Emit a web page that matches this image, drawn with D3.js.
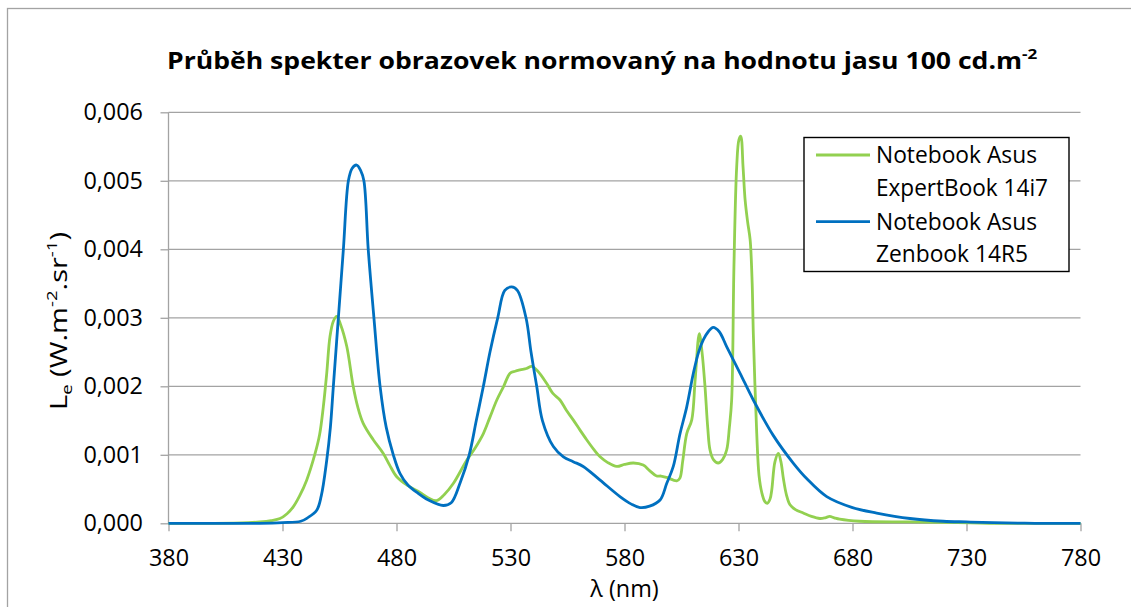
<!DOCTYPE html>
<html>
<head>
<meta charset="utf-8">
<script src="https://cdn.jsdelivr.net/npm/d3@7"></script>
<style>
  body { margin: 0; background: #fff; }
  svg { display: block; }
  text { font-family: "Open Sans", "Liberation Sans", sans-serif; fill: #000; }
</style>
</head>
<body>
<svg id="chart" width="1131" height="607"></svg>
<script>
// Spectral radiance normalised to 100 cd/m², wavelengths in nm
const expertWl = [380, 400, 415, 420, 425, 428.9, 432, 434.7, 437.5, 440.6, 444.3, 446.3, 447.9, 449.4, 450.8, 452.3, 453.8, 455.5, 458.2, 461, 463, 465.4, 469.8, 474.2, 477, 480.1, 485, 490.3, 494, 497.6, 501, 504.9, 510.8, 514.5, 518.1, 521, 524, 527, 529.8, 532, 534.2, 537, 539.3, 542, 545.9, 548.5, 551.7, 554.5, 557.5, 560.5, 563.4, 566.5, 569.3, 572.5, 576.6, 580, 583.9, 588.2, 591, 594.1, 596, 598.5, 602.9, 604.3, 605.5, 607.3, 609.5, 611, 612.8, 614, 615.3, 616.5, 617.5, 619, 621.1, 623, 624.8, 626, 627, 628, 629.2, 630.2, 631, 632, 632.9, 634, 635.1, 636, 636.5, 638, 639, 640.2, 641.5, 642.6, 643.8, 644.6, 646, 647.5, 648.6, 649.7, 651, 652.6, 655, 658.4, 662, 665.7, 668, 670, 672, 674.4, 683.2, 705.2, 726, 740, 780];
const expertLe = [0, 0, 0.00001, 0.00002, 0.00004, 0.00007, 0.00014, 0.00024, 0.0004, 0.00063, 0.00102, 0.0013, 0.0017, 0.00219, 0.00272, 0.00295, 0.00302, 0.0029, 0.00258, 0.002, 0.0017, 0.00146, 0.00122, 0.00102, 0.00085, 0.00068, 0.00055, 0.00045, 0.00037, 0.00033, 0.00042, 0.00058, 0.00092, 0.0011, 0.00131, 0.00155, 0.0018, 0.002, 0.00219, 0.00222, 0.00224, 0.00226, 0.00229, 0.00222, 0.00204, 0.0019, 0.0018, 0.00165, 0.00151, 0.00136, 0.00122, 0.00108, 0.00097, 0.00089, 0.00083, 0.00086, 0.00088, 0.00085, 0.00077, 0.00069, 0.00069, 0.00067, 0.00062, 0.00066, 0.0009, 0.00131, 0.00151, 0.0021, 0.00277, 0.0025, 0.002, 0.0014, 0.00107, 0.00093, 0.00088, 0.00093, 0.00107, 0.0014, 0.0018, 0.00375, 0.0052, 0.0056, 0.00565, 0.0052, 0.00472, 0.0044, 0.00414, 0.0035, 0.00277, 0.00131, 0.0007, 0.00045, 0.00032, 0.00029, 0.00035, 0.00049, 0.0009, 0.00102, 0.0009, 0.00065, 0.00042, 0.00027, 0.0002, 0.00015, 0.0001, 0.00007, 0.00008, 0.0001, 0.00008, 0.00006, 0.00003, 0.00002, 0.00001, 0, 0];

const zenWl = [380, 400, 420, 430, 438, 441, 445, 447, 449.4, 451, 452.3, 454.5, 456.7, 458.9, 460.5, 462.5, 464.3, 465.7, 467.6, 470.1, 472.8, 475.5, 478.6, 481.5, 485, 489.4, 494, 500.5, 504, 508, 511.9, 515, 518.1, 521, 524.4, 527.5, 530.5, 533, 536.8, 539, 541.5, 544, 548.8, 553.2, 557.5, 561.9, 569.3, 578, 583, 586.8, 591, 595.6, 598.5, 601.4, 604.3, 607.3, 610.2, 612.5, 614.6, 616.8, 618.9, 621.5, 624.8, 630.7, 636.5, 645.3, 654, 660, 668.7, 680, 690.6, 705.2, 719.8, 730, 741.8, 760, 780];
const zenLe = [0, 0, 0, 0.00001, 0.00003, 0.00008, 0.00019, 0.0004, 0.00092, 0.0014, 0.002, 0.003, 0.004, 0.005, 0.00518, 0.00523, 0.00515, 0.005, 0.004, 0.003, 0.002, 0.0014, 0.001, 0.00073, 0.00056, 0.00044, 0.00034, 0.00026, 0.0003, 0.0006, 0.001, 0.0015, 0.002, 0.0025, 0.003, 0.0034, 0.00345, 0.0034, 0.003, 0.0025, 0.002, 0.0015, 0.00112, 0.00097, 0.0009, 0.00083, 0.00063, 0.00039, 0.00028, 0.00023, 0.00025, 0.00034, 0.00058, 0.00083, 0.0013, 0.0017, 0.00219, 0.0025, 0.00268, 0.0028, 0.00286, 0.0028, 0.00258, 0.00219, 0.0018, 0.00128, 0.00088, 0.00065, 0.00039, 0.00023, 0.00015, 0.00007, 0.00003, 0.00002, 0.00001, 0, 0];

const xTicks = [380, 430, 480, 530, 580, 630, 680, 730, 780];
const yTicks = [0, 0.001, 0.002, 0.003, 0.004, 0.005, 0.006];

const seriesNames = [["Notebook Asus", "ExpertBook 14i7"], ["Notebook Asus", "Zenbook 14R5"]];
const seriesColors = ["#92D050", "#0070C0"];

const svg = d3.select("#chart");
const FS = 23.4;
const gridColor = "#a3a3a3";

const x = d3.scaleLinear().domain([380, 780]).range([168.5, 1080.5]);
const y = d3.scaleLinear().domain([0, 0.006]).range([523.3, 112.3]);

// Horizontally squeeze/stretch a text element about its anchor to a target width
function fitWidth(sel, target, ax, ay, rotate) {
  const w = sel.node().getBBox().width;
  const k = target / w;
  const rot = rotate ? ` rotate(${rotate})` : "";
  sel.attr("transform", `translate(${ax},${ay})${rot} scale(${k},1)`);
}

// Outer chart frame
svg.append("rect")
  .attr("x", 7.5).attr("y", 8.5).attr("width", 1200).attr("height", 700)
  .attr("fill", "none").attr("stroke", gridColor).attr("stroke-width", 1.3);

// Horizontal gridlines
svg.append("g").selectAll("line").data(yTicks.filter(d => d > 0)).join("line")
  .attr("x1", x(380)).attr("x2", x(780))
  .attr("y1", d => y(d)).attr("y2", d => y(d))
  .attr("stroke", gridColor).attr("stroke-width", 1.3);

// Axes
const yAxis = d3.axisLeft(y).tickValues(yTicks).tickSize(8).tickPadding(17.5)
  .tickFormat(d => d3.format(".3f")(d).replace(".", ","));
const xAxis = d3.axisBottom(x).tickValues(xTicks).tickSize(8).tickPadding(18.5)
  .tickFormat(d3.format("d"));

const gy = svg.append("g").attr("transform", `translate(${x(380)},0)`).call(yAxis);
const gx = svg.append("g").attr("transform", `translate(0,${y(0)})`).call(xAxis);
[gx, gy].forEach(g => {
  g.select(".domain").attr("stroke", gridColor).attr("stroke-width", 1.3);
  g.selectAll(".tick line").attr("stroke", gridColor).attr("stroke-width", 1.3);
  g.selectAll(".tick text").attr("font-size", FS).attr("font-family", "Open Sans").attr("fill", "#000");
});
gx.select(".domain").attr("d", `M${x(380)},0H${x(780)}`);
gy.select(".domain").attr("d", `M0,${y(0)}V${y(0.006)}`);

// Spectra
const line = d3.line().x(d => x(d[0])).y(d => y(d[1])).curve(d3.curveCatmullRom.alpha(0.5));
const series = [
  d3.zip(expertWl, expertLe),
  d3.zip(zenWl, zenLe)
];
svg.append("g").selectAll("path").data(series).join("path")
  .attr("d", line)
  .attr("fill", "none")
  .attr("stroke", (d, i) => seriesColors[i])
  .attr("stroke-width", 2.8)
  .attr("stroke-linejoin", "round");

// Title
const title = svg.append("text").attr("font-size", FS).attr("font-weight", "bold");
title.append("tspan").text("Průběh spekter obrazovek normovaný na hodnotu jasu 100 cd.m");
title.append("tspan").attr("font-size", 15).attr("dy", -9.5).text("-2");
fitWidth(title, 871, 167, 68.5);

// Y axis title
const yTitle = svg.append("text").attr("font-size", FS).attr("text-anchor", "start");
yTitle.append("tspan").text("L");
yTitle.append("tspan").attr("font-size", 15).attr("dy", 5).text("e");
yTitle.append("tspan").attr("dy", -5).text(" (W.m");
yTitle.append("tspan").attr("font-size", 15).attr("dy", -9.5).text("-2");
yTitle.append("tspan").attr("dy", 9.5).text(".sr");
yTitle.append("tspan").attr("font-size", 15).attr("dy", -9.5).text("-1");
yTitle.append("tspan").attr("dy", 9.5).text(")");
fitWidth(yTitle, 178, 66.5, 410, -90);

// X axis title
svg.append("text").attr("font-size", FS).attr("text-anchor", "middle")
  .attr("x", (x(380) + x(780)) / 2).attr("y", 597).text("λ (nm)");

// Legend
const legend = svg.append("g");
legend.append("rect").attr("x", 804).attr("y", 137.5).attr("width", 265).attr("height", 134)
  .attr("fill", "#fff").attr("stroke", "#000").attr("stroke-width", 1.4);
const rowY = [[163.3, 196], [230, 262]];
const rowW = [[161, 172], [161, 152]];
seriesNames.forEach((names, i) => {
  legend.append("line")
    .attr("x1", 816).attr("x2", 870)
    .attr("y1", rowY[i][0] - 8.3).attr("y2", rowY[i][0] - 8.3)
    .attr("stroke", seriesColors[i]).attr("stroke-width", 2.8);
  names.forEach((t, j) => {
    const tx = legend.append("text").attr("font-size", FS).text(t);
    fitWidth(tx, rowW[i][j], 876, rowY[i][j]);
  });
});
</script>
</body>
</html>
